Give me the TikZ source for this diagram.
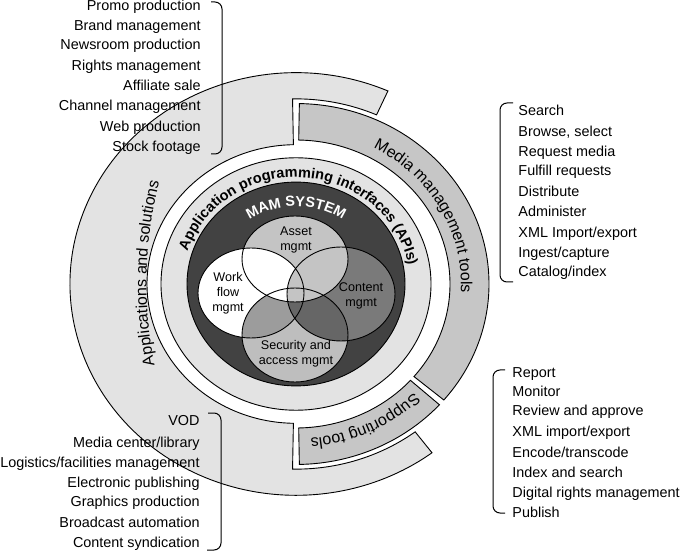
\documentclass[tikz,border=0pt]{standalone}
\usepackage{fontspec}
\setmainfont{Liberation Sans}
\usetikzlibrary{decorations.text}
\definecolor{bandlight}{HTML}{E3E3E3}
\definecolor{bandmid}{HTML}{C6C6C6}
\definecolor{apiring}{HTML}{E3E3E3}
\definecolor{mamdark}{HTML}{424242}
\definecolor{vennasset}{HTML}{C4C4C4}
\definecolor{vennsec}{HTML}{BEBEBE}
\definecolor{venncontent}{HTML}{7A7A7A}
\definecolor{vennmid}{HTML}{9C9C9C}
\definecolor{venndark}{HTML}{666666}
\newcommand{\listfont}{\fontsize{14.4}{17}\selectfont}
\newcommand{\bandfont}{\fontsize{16}{19}\selectfont}
\newcommand{\apifont}{\fontsize{14.5}{17}\selectfont\bfseries}
\newcommand{\vennfont}{\fontsize{12.6}{15}\selectfont}
% the four venn ellipses
\newcommand{\vennA}{(295,293) ellipse [x radius=53, y radius=43]}
\newcommand{\vennW}{(251,259) ellipse [x radius=53, y radius=45]}
\newcommand{\vennC}{(341,258) ellipse [x radius=54, y radius=47]}
\newcommand{\vennS}{(295,217) ellipse [x radius=53, y radius=47]}

\begin{document}
\begin{tikzpicture}[x=1pt, y=1pt, line width=0.9pt,
    listleft/.style={font=\listfont, inner sep=0pt, anchor=base east},
    listright/.style={font=\listfont, inner sep=0pt, anchor=base west},
    vennlabel/.style={font=\vennfont, align=center, inner sep=0pt},
    bracket/.style={rounded corners=7pt, line width=1pt}]
  \useasboundingbox (0,0) rectangle (680,552);

  % bands round the core (squashed a little, as in the scan)
  \begin{scope}[shift={(296,268)}, yscale=0.935]
    % applications and solutions
    \filldraw[fill=bandlight] (66:226) arc[start angle=66, end angle=307, radius=226]
      -- (307:198) arc[start angle=307, end angle=269, radius=198]
      -- (269:149) arc[start angle=269, end angle=91, radius=149]
      -- (91:198) arc[start angle=91, end angle=66, radius=198] -- cycle;
    % media management tools
    \filldraw[fill=bandmid] (89:193) arc[start angle=89, end angle=-40, radius=193]
      -- (-40:154) arc[start angle=-40, end angle=89, radius=154] -- cycle;
    % supporting tools
    \filldraw[fill=bandmid] (271:193) arc[start angle=271, end angle=318, radius=193]
      -- (318:154) arc[start angle=318, end angle=271, radius=154] -- cycle;
    % APIs ring and MAM core
    \filldraw[fill=apiring] (0,0) circle (135);
    \filldraw[fill=mamdark] (0,0) circle (109);
  \end{scope}

  % venn regions
  \fill[venncontent] \vennC;
  \fill[vennsec] \vennS;
  \begin{scope} \clip \vennC; \fill[venndark] \vennS; \end{scope}
  \fill[white] \vennW;
  \begin{scope} \clip \vennW; \fill[vennmid] \vennS; \end{scope}
  \begin{scope} \clip \vennW; \clip \vennC; \fill[venndark] \vennS; \end{scope}
  \fill[vennasset] \vennA;
  \begin{scope} \clip \vennA; \fill[white] \vennW; \end{scope}
  \begin{scope} \clip \vennA; \clip \vennW; \fill[vennasset] \vennC; \end{scope}
  \draw \vennA; \draw \vennW; \draw \vennC; \draw \vennS;

  \node[vennlabel] (asset) at (296,312) {Asset\\mgmt};
  \node[vennlabel] (workflow) at (228,259) {Work\\flow\\mgmt};
  \node[vennlabel] (content) at (361,256) {Content\\mgmt};
  \node[vennlabel] (security) at (296,198) {Security and\\access mgmt};

  % curved titles
  \begin{scope}[shift={(296,268)}]
    \path[decorate, decoration={text along path, text align=center,
        text={|\apifont|Application programming interfaces (APIs)}}]
      (176:114 and 106.6) arc[start angle=176, end angle=-4, x radius=114, y radius=106.6];
    \path[decorate, decoration={text along path, text align=center,
        text={|\apifont\color{white}|MAM SYSTEM}}]
      (150:83 and 77.6) arc[start angle=150, end angle=30, x radius=83, y radius=77.6];
    \path[decorate, decoration={text along path, text align=center,
        text={|\bandfont|Media management tools}}]
      (75:165 and 154.3) arc[start angle=75, end angle=-17, x radius=165, y radius=154.3];
    \path[decorate, decoration={text along path, text align=center,
        text={|\bandfont|Supporting tools}}]
      (-30:166 and 155.2) arc[start angle=-30, end angle=-99, x radius=166, y radius=155.2];
  \end{scope}
  \begin{scope}[shift={(560,268)}]
    \path[decorate, decoration={text along path, text align=center,
        text={|\bandfont|Applications and solutions}}]
      (194.5:413.5) arc[start angle=194.5, end angle=162.5, radius=413.5];
  \end{scope}

  % applications, upper list
  \node[listleft] (promo) at (201,541) {Promo production};
  \node[listleft] (brand) at (201,521.3) {Brand management};
  \node[listleft] (newsroom) at (201,502) {Newsroom production};
  \node[listleft] (rights) at (201,481.3) {Rights management};
  \node[listleft] (affiliate) at (201,461) {Affiliate sale};
  \node[listleft] (channel) at (201,441) {Channel management};
  \node[listleft] (webprod) at (201,420) {Web production};
  \node[listleft] (stock) at (201,400.3) {Stock footage};
  \draw[bracket] (211,550) -| (222,398) -- (211,398);

  % applications, lower list
  \node[listleft] (vod) at (200,127) {VOD};
  \node[listleft] (mediacenter) at (200,105) {Media center/library};
  \node[listleft] (logistics) at (200,85) {Logistics/facilities management};
  \node[listleft] (epublish) at (200,65) {Electronic publishing};
  \node[listleft] (graphics) at (200,46) {Graphics production};
  \node[listleft] (broadcast) at (200,25) {Broadcast automation};
  \node[listleft] (syndication) at (200,5) {Content syndication};
  \draw[bracket] (208,139) -| (221,2) -- (207,2);

  % media management tools list
  \node[listright] (search) at (518,436) {Search};
  \node[listright] (browse) at (518,415.3) {Browse, select};
  \node[listright] (request) at (518,395) {Request media};
  \node[listright] (fulfill) at (518,376) {Fulfill requests};
  \node[listright] (distribute) at (518,355.3) {Distribute};
  \node[listright] (administer) at (518,335.3) {Administer};
  \node[listright] (xmlmedia) at (518,314) {XML Import/export};
  \node[listright] (ingest) at (518,294) {Ingest/capture};
  \node[listright] (catalog) at (518,275) {Catalog/index};
  \draw[bracket] (513,449) -| (500,270) -- (513,270);

  % supporting tools list
  \node[listright] (report) at (512,175) {Report};
  \node[listright] (monitor) at (512,156) {Monitor};
  \node[listright] (review) at (512,136) {Review and approve};
  \node[listright] (xmlsupport) at (512,116) {XML import/export};
  \node[listright] (encode) at (512,95) {Encode/transcode};
  \node[listright] (index) at (512,75) {Index and search};
  \node[listright] (drm) at (512,55) {Digital rights management};
  \node[listright] (publish) at (512,35) {Publish};
  \draw[bracket] (505,182) -| (493,39) -- (505,39);
\end{tikzpicture}
\end{document}
